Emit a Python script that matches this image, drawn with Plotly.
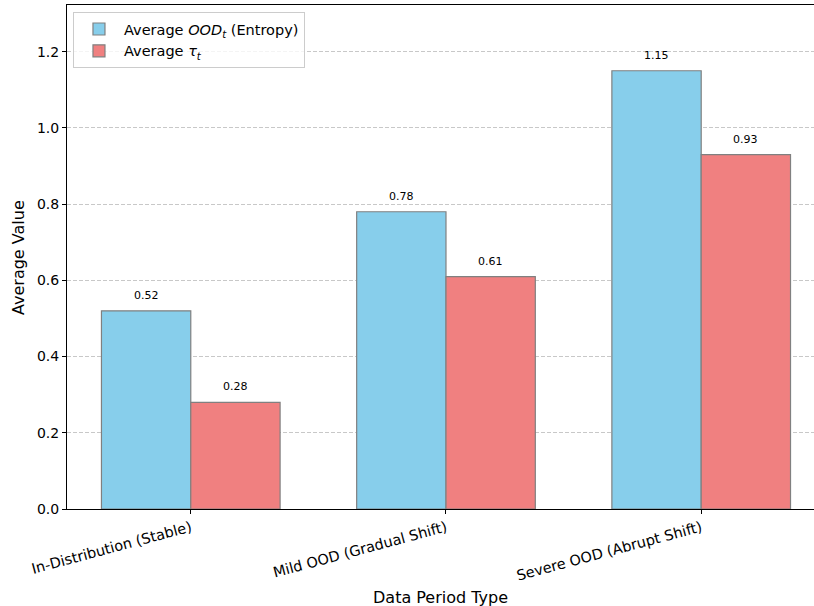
import plotly.graph_objects as go

categories = ["In-Distribution (Stable)", "Mild OOD (Gradual Shift)", "Severe OOD (Abrupt Shift)"]
ood_values = [0.52, 0.78, 1.15]
tau_values = [0.28, 0.61, 0.93]
series_names = ["Average <i>OOD</i><sub><i>t</i></sub> (Entropy)", "Average <i>τ</i><sub><i>t</i></sub>"]
colors = ["#87CEEB", "#F08080"]
bar_w = 0.35
FONT = "DejaVu Sans"

xpos = list(range(len(categories)))
fig = go.Figure()
for vals, name, col, off in [(ood_values, series_names[0], colors[0], -bar_w / 2),
                             (tau_values, series_names[1], colors[1], bar_w / 2)]:
    xs = [x + off for x in xpos]
    fig.add_trace(go.Bar(x=xs, y=vals, width=bar_w, name=name,
                         marker=dict(color=col, line=dict(color="grey", width=1.2))))
    for x, v in zip(xs, vals):
        fig.add_annotation(x=x, y=v, text=f"{v:.2f}", showarrow=False,
                           yanchor="bottom", yshift=7,
                           font=dict(size=11, color="black", family=FONT))

# axis titles
fig.add_annotation(x=0.5, y=-0.175, xref="paper", yref="paper", text="Data Period Type",
                   showarrow=False, xanchor="center", yanchor="middle",
                   font=dict(size=16, family=FONT, color="black"))
fig.add_annotation(x=-0.0656, y=0.5, xref="paper", yref="paper", text="Average Value",
                   showarrow=False, textangle=-90, xanchor="center", yanchor="middle",
                   font=dict(size=16, family=FONT, color="black"))

fig.update_layout(
    width=814, height=606,
    margin=dict(l=67, r=0, t=5, b=97),
    plot_bgcolor="white", paper_bgcolor="white",
    font=dict(family=FONT, color="black"),
    barmode="overlay",
    showlegend=True,
    legend=dict(x=0.008, y=0.986, xanchor="left", yanchor="top",
                bordercolor="#cccccc", borderwidth=1, bgcolor="rgba(255,255,255,0.8)",
                font=dict(size=14.5), tracegroupgap=0, itemwidth=40),
)
fig.update_xaxes(
    range=[-0.485, 2.442], automargin=False,
    tickvals=xpos, ticktext=categories, tickangle=-15,
    tickfont=dict(size=14.5), ticks="outside", ticklen=4, tickcolor="black",
    showline=True, linecolor="black", linewidth=1, mirror=True,
    showgrid=False, zeroline=False,
)
fig.update_yaxes(
    range=[0, 1.3225], automargin=False,
    tickvals=[0, 0.2, 0.4, 0.6, 0.8, 1.0, 1.2],
    ticktext=["0.0", "0.2", "0.4", "0.6", "0.8", "1.0", "1.2"],
    tickfont=dict(size=14), ticks="outside", ticklen=4, tickcolor="black",
    showline=True, linecolor="black", linewidth=1,
    showgrid=True, gridcolor="#c8c8c8", griddash="4px,2px", gridwidth=1,
    zeroline=False,
)
fig.write_html("out.html", config={"displayModeBar": False})

# remove the browser's default page margin so the figure sits at the window origin
with open("out.html", "r", encoding="utf-8") as f:
    html = f.read()
html = html.replace("<head>", "<head><style>html,body{margin:0;padding:0;overflow:hidden}</style>", 1)
with open("out.html", "w", encoding="utf-8") as f:
    f.write(html)
